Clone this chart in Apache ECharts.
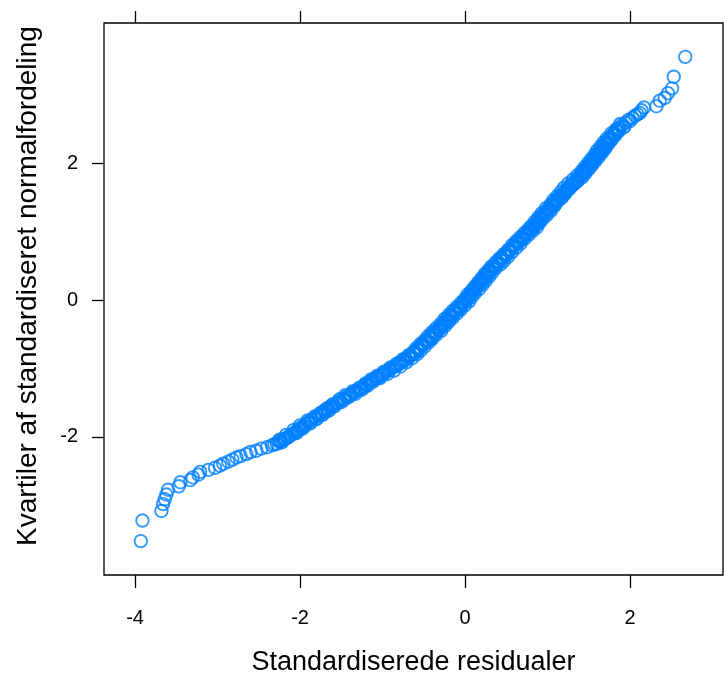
<!DOCTYPE html>
<html>
<head>
<meta charset="utf-8">
<script src="https://cdn.jsdelivr.net/npm/echarts@6/dist/echarts.min.js"></script>
<style>
  html, body { margin: 0; padding: 0; background: #fff; }
  #qq { width: 724px; height: 675px; }
</style>
</head>
<body>
<div id="qq"></div>
<script>
// standardized residuals (x) and normal quantiles (y)
const residuals = [
  -3.93, -3.91, -3.68, -3.66, -3.64, -3.62, -3.60, -3.47, -3.45, -3.33,
  -3.30, -3.23, -3.21, -3.11, -3.03, -2.97, -2.93, -2.87, -2.82, -2.77,
  -2.72, -2.65, -2.60, -2.53, -2.47, -2.40, -2.34, -2.28, -2.24, -2.20,
  -2.18, -2.14, -2.12, -2.07, -2.05, -2.01, -1.99, -1.96, -1.93, -1.90,
  -1.86, -1.83, -1.78, -1.76, -1.70, -1.69, -1.63, -1.62, -1.56, -1.53,
  -1.46, -1.44, -1.38, -1.36, -1.29, -1.28, -1.22, -1.21, -1.15, -1.14,
  -1.08, -1.06, -1.02, -0.98, -0.96, -0.90, -0.88, -0.82, -0.80, -0.75,
  -0.73, -0.68, -0.66, -0.62, -0.61, -0.57, -0.56, -0.52, -0.51, -0.47,
  -0.46, -0.43, -0.42, -0.37, -0.37, -0.32, -0.31, -0.27, -0.26, -0.22,
  -0.22, -0.18, -0.17, -0.13, -0.12, -0.08, -0.07, -0.03, -0.02, 0.02,
  0.03, 0.05, 0.07, 0.10, 0.11, 0.14, 0.15, 0.19, 0.19, 0.23,
  0.23, 0.27, 0.27, 0.31, 0.31, 0.35, 0.36, 0.40, 0.40, 0.45,
  0.45, 0.50, 0.50, 0.54, 0.55, 0.59, 0.60, 0.65, 0.65, 0.70,
  0.70, 0.75, 0.75, 0.80, 0.80, 0.84, 0.85, 0.88, 0.88, 0.92,
  0.92, 0.96, 0.97, 1.01, 1.02, 1.05, 1.07, 1.09, 1.12, 1.14,
  1.16, 1.19, 1.22, 1.23, 1.27, 1.28, 1.33, 1.34, 1.37, 1.39,
  1.40, 1.43, 1.44, 1.47, 1.48, 1.51, 1.52, 1.55, 1.56, 1.59,
  1.60, 1.63, 1.63, 1.67, 1.67, 1.71, 1.71, 1.74, 1.76, 1.79,
  1.81, 1.83, 1.86, 1.90, 1.95, 1.98, 2.03, 2.06, 2.12, 2.14,
  2.17, 2.32, 2.36, 2.42, 2.46, 2.51, 2.53, 2.67
];
const quantiles = [
  -3.52, -3.22, -3.08, -2.98, -2.91, -2.84, -2.77, -2.72, -2.66, -2.63,
  -2.59, -2.55, -2.51, -2.48, -2.45, -2.42, -2.39, -2.36, -2.33, -2.30,
  -2.28, -2.25, -2.22, -2.20, -2.17, -2.15, -2.12, -2.10, -2.07, -2.05,
  -2.02, -2.00, -1.98, -1.95, -1.92, -1.89, -1.86, -1.84, -1.81, -1.78,
  -1.75, -1.72, -1.69, -1.66, -1.63, -1.60, -1.57, -1.54, -1.51, -1.47,
  -1.44, -1.41, -1.38, -1.35, -1.32, -1.30, -1.27, -1.24, -1.21, -1.18,
  -1.15, -1.12, -1.10, -1.07, -1.04, -1.01, -0.98, -0.95, -0.92, -0.89,
  -0.86, -0.83, -0.80, -0.78, -0.75, -0.72, -0.69, -0.66, -0.63, -0.60,
  -0.58, -0.55, -0.52, -0.49, -0.46, -0.43, -0.39, -0.36, -0.33, -0.30,
  -0.27, -0.24, -0.21, -0.18, -0.15, -0.12, -0.09, -0.06, -0.03, 0.00,
  0.03, 0.06, 0.09, 0.12, 0.15, 0.18, 0.21, 0.24, 0.27, 0.30,
  0.33, 0.36, 0.39, 0.42, 0.44, 0.47, 0.50, 0.53, 0.56, 0.59,
  0.62, 0.65, 0.68, 0.71, 0.74, 0.78, 0.81, 0.84, 0.87, 0.90,
  0.93, 0.96, 0.99, 1.02, 1.05, 1.07, 1.10, 1.13, 1.16, 1.19,
  1.22, 1.25, 1.29, 1.32, 1.35, 1.38, 1.41, 1.44, 1.47, 1.50,
  1.53, 1.56, 1.59, 1.62, 1.65, 1.68, 1.71, 1.74, 1.77, 1.80,
  1.83, 1.86, 1.89, 1.92, 1.95, 1.98, 2.01, 2.04, 2.07, 2.10,
  2.13, 2.16, 2.19, 2.22, 2.25, 2.28, 2.31, 2.34, 2.38, 2.41,
  2.44, 2.47, 2.51, 2.55, 2.59, 2.63, 2.66, 2.69, 2.73, 2.77,
  2.81, 2.83, 2.91, 2.95, 3.02, 3.09, 3.26, 3.55
];
// extra points in the dense middle band, [residual, quantile]
const bandPoints = [
  [-2.31, -2.11], [-2.22, -2.08], [-2.25, -2.04], [-2.15, -2.01], [-2.17, -1.97],
  [-2.04, -1.94], [-2.08, -1.90], [-1.97, -1.88], [-2.00, -1.83], [-1.88, -1.80],
  [-1.91, -1.76], [-1.80, -1.74], [-1.82, -1.70], [-1.72, -1.67], [-1.74, -1.64],
  [-1.65, -1.61], [-1.67, -1.58], [-1.58, -1.55], [-1.60, -1.52], [-1.50, -1.49],
  [-1.52, -1.45], [-1.41, -1.42], [-1.45, -1.39], [-1.33, -1.37], [-1.36, -1.33],
  [-1.25, -1.31], [-1.28, -1.28], [-1.18, -1.25], [-1.21, -1.22], [-1.11, -1.19],
  [-1.14, -1.16], [-1.03, -1.14], [-1.07, -1.11], [-0.94, -1.08], [-0.99, -1.05],
  [-0.86, -1.03], [-0.91, -0.99], [-0.78, -0.97], [-0.83, -0.93], [-0.71, -0.91],
  [-0.76, -0.87], [-0.64, -0.85], [-0.69, -0.81], [-0.58, -0.79], [-0.63, -0.76],
  [-0.54, -0.74], [-0.59, -0.70], [-0.49, -0.68], [-0.54, -0.64], [-0.44, -0.62],
  [-0.49, -0.59], [-0.40, -0.57], [-0.45, -0.53], [-0.35, -0.51], [-0.40, -0.47],
  [-0.29, -0.45], [-0.35, -0.41], [-0.24, -0.38], [-0.30, -0.35], [-0.20, -0.32],
  [-0.25, -0.28], [-0.15, -0.26], [-0.20, -0.22], [-0.10, -0.20], [-0.15, -0.16],
  [-0.05, -0.14], [-0.10, -0.10], [0.00, -0.08], [-0.05, -0.04], [0.05, -0.02],
  [0.00, 0.02], [0.08, 0.04], [0.03, 0.08], [0.12, 0.10], [0.08, 0.14],
  [0.17, 0.16], [0.12, 0.20], [0.21, 0.22], [0.16, 0.26], [0.25, 0.28],
  [0.20, 0.32], [0.29, 0.34], [0.24, 0.38], [0.33, 0.40], [0.28, 0.43],
  [0.37, 0.46], [0.32, 0.49], [0.43, 0.52], [0.37, 0.55], [0.47, 0.57],
  [0.42, 0.61], [0.52, 0.63], [0.47, 0.67], [0.57, 0.70], [0.52, 0.73],
  [0.62, 0.76], [0.57, 0.80], [0.67, 0.82], [0.62, 0.86], [0.72, 0.89],
  [0.67, 0.92], [0.77, 0.95], [0.72, 0.98], [0.82, 1.01], [0.77, 1.04],
  [0.87, 1.06], [0.81, 1.09], [0.90, 1.12], [0.85, 1.15], [0.94, 1.18],
  [0.89, 1.21], [0.99, 1.24], [0.93, 1.27], [1.04, 1.30], [0.98, 1.34],
  [1.08, 1.37], [1.04, 1.40], [1.11, 1.43], [1.07, 1.46], [1.17, 1.49],
  [1.12, 1.52], [1.21, 1.55], [1.16, 1.58], [1.25, 1.61], [1.20, 1.64],
  [1.30, 1.67], [1.25, 1.70], [1.36, 1.73], [1.31, 1.76], [1.42, 1.79],
  [1.36, 1.82], [1.46, 1.85], [1.41, 1.88], [1.50, 1.91], [1.45, 1.94],
  [1.54, 1.97], [1.49, 2.00], [1.58, 2.03], [1.53, 2.06], [1.62, 2.09],
  [1.57, 2.12], [1.66, 2.15], [1.60, 2.18], [1.70, 2.21], [1.64, 2.24],
  [1.73, 2.27], [1.68, 2.30], [1.77, 2.33], [1.72, 2.36], [1.82, 2.40],
  [1.77, 2.43], [1.86, 2.46], [1.83, 2.49], [1.93, 2.53], [1.88, 2.57],
  [2.00, 2.61], [2.09, 2.71]
];
// more points along the centre of the band, [residual, quantile]
const centrePoints = [
  [-2.26, -2.06], [-2.19, -2.03], [-2.10, -1.96], [-2.03, -1.91], [-1.95, -1.85],
  [-1.87, -1.79], [-1.80, -1.73], [-1.74, -1.68], [-1.66, -1.62], [-1.60, -1.56],
  [-1.54, -1.50], [-1.47, -1.46], [-1.40, -1.40], [-1.33, -1.34], [-1.26, -1.29],
  [-1.19, -1.23], [-1.12, -1.17], [-1.05, -1.13], [-0.99, -1.09], [-0.92, -1.03],
  [-0.85, -0.97], [-0.79, -0.93], [-0.72, -0.88], [-0.66, -0.82], [-0.60, -0.77],
  [-0.56, -0.71], [-0.51, -0.65], [-0.46, -0.61], [-0.41, -0.56], [-0.37, -0.50],
  [-0.32, -0.44], [-0.28, -0.40], [-0.23, -0.34], [-0.19, -0.29], [-0.15, -0.23],
  [-0.11, -0.17], [-0.07, -0.13], [-0.03, -0.07], [0.01, -0.02], [0.04, 0.05],
  [0.08, 0.11], [0.12, 0.17], [0.16, 0.23], [0.20, 0.29], [0.24, 0.35],
  [0.28, 0.41], [0.33, 0.48], [0.38, 0.54], [0.43, 0.60], [0.48, 0.66],
  [0.53, 0.72], [0.58, 0.77], [0.63, 0.83], [0.68, 0.88], [0.73, 0.94],
  [0.78, 1.00], [0.83, 1.06], [0.88, 1.11], [0.91, 1.17], [0.95, 1.23],
  [1.00, 1.28], [1.04, 1.33], [1.09, 1.39], [1.13, 1.45], [1.18, 1.51],
  [1.22, 1.57], [1.27, 1.63], [1.32, 1.69], [1.37, 1.75], [1.42, 1.81],
  [1.46, 1.87], [1.50, 1.93], [1.54, 1.99], [1.58, 2.05], [1.62, 2.11],
  [1.66, 2.17], [1.70, 2.23], [1.74, 2.29], [1.78, 2.35], [1.82, 2.42],
  [1.87, 2.48], [1.92, 2.52]
];
const xTicks = [-4, -2, 0, 2];
const yTicks = [-2, 0, 2];

const points = residuals
  .map((r, i) => [r, quantiles[i]])
  .concat(bandPoints, centrePoints);
const font = '"Liberation Sans", Arial, sans-serif';

const chart = echarts.init(document.getElementById("qq"));
chart.setOption({
  animation: false,
  grid: {
    show: true,
    left: 104,
    top: 23,
    width: 619,
    height: 552,
    outerBoundsMode: "none",
    borderColor: "#000",
    borderWidth: 1.3,
    backgroundColor: "#fff",
  },
  xAxis: [
    {
      type: "value",
      min: -4.376,
      max: 3.127,
      position: "bottom",
      splitLine: { show: false },
      axisLine: { show: false, onZero: false },
      axisTick: {
        show: true,
        length: 13,
        customValues: xTicks,
        lineStyle: { color: "#000", width: 1.3 },
      },
      axisLabel: {
        customValues: xTicks,
        margin: 33,
        color: "#000",
        fontSize: 20,
        fontFamily: font,
      },
      name: "Standardiserede residualer",
      nameLocation: "middle",
      nameGap: 74,
      nameTextStyle: { color: "#000", fontSize: 27, fontFamily: font },
    },
    {
      type: "value",
      min: -4.376,
      max: 3.127,
      position: "top",
      splitLine: { show: false },
      axisLine: { show: false, onZero: false },
      axisTick: {
        show: true,
        length: 12,
        customValues: xTicks,
        lineStyle: { color: "#000", width: 1.3 },
      },
      axisLabel: { show: false },
    },
  ],
  yAxis: {
    type: "value",
    min: -4.015,
    max: 4.044,
    splitLine: { show: false },
    axisLine: { show: false, onZero: false },
    axisTick: {
      show: true,
      length: 12,
      customValues: yTicks,
      lineStyle: { color: "#000", width: 1.3 },
    },
    axisLabel: {
      customValues: yTicks,
      margin: 26,
      color: "#000",
      fontSize: 20,
      fontFamily: font,
    },
    name: "Kvartiler af standardiseret normalfordeling",
    nameLocation: "middle",
    nameGap: 62,
    nameTextStyle: {
      color: "#000",
      fontSize: 28,
      fontFamily: font,
      padding: [0, 0, 0, 26],
    },
  },
  series: [
    {
      type: "scatter",
      data: points,
      symbol: "circle",
      symbolSize: 12.5,
      itemStyle: {
        color: "rgba(0,0,0,0)",
        borderColor: "#0080FF",
        borderWidth: 1.9,
      },
    },
  ],
});
</script>
</body>
</html>
